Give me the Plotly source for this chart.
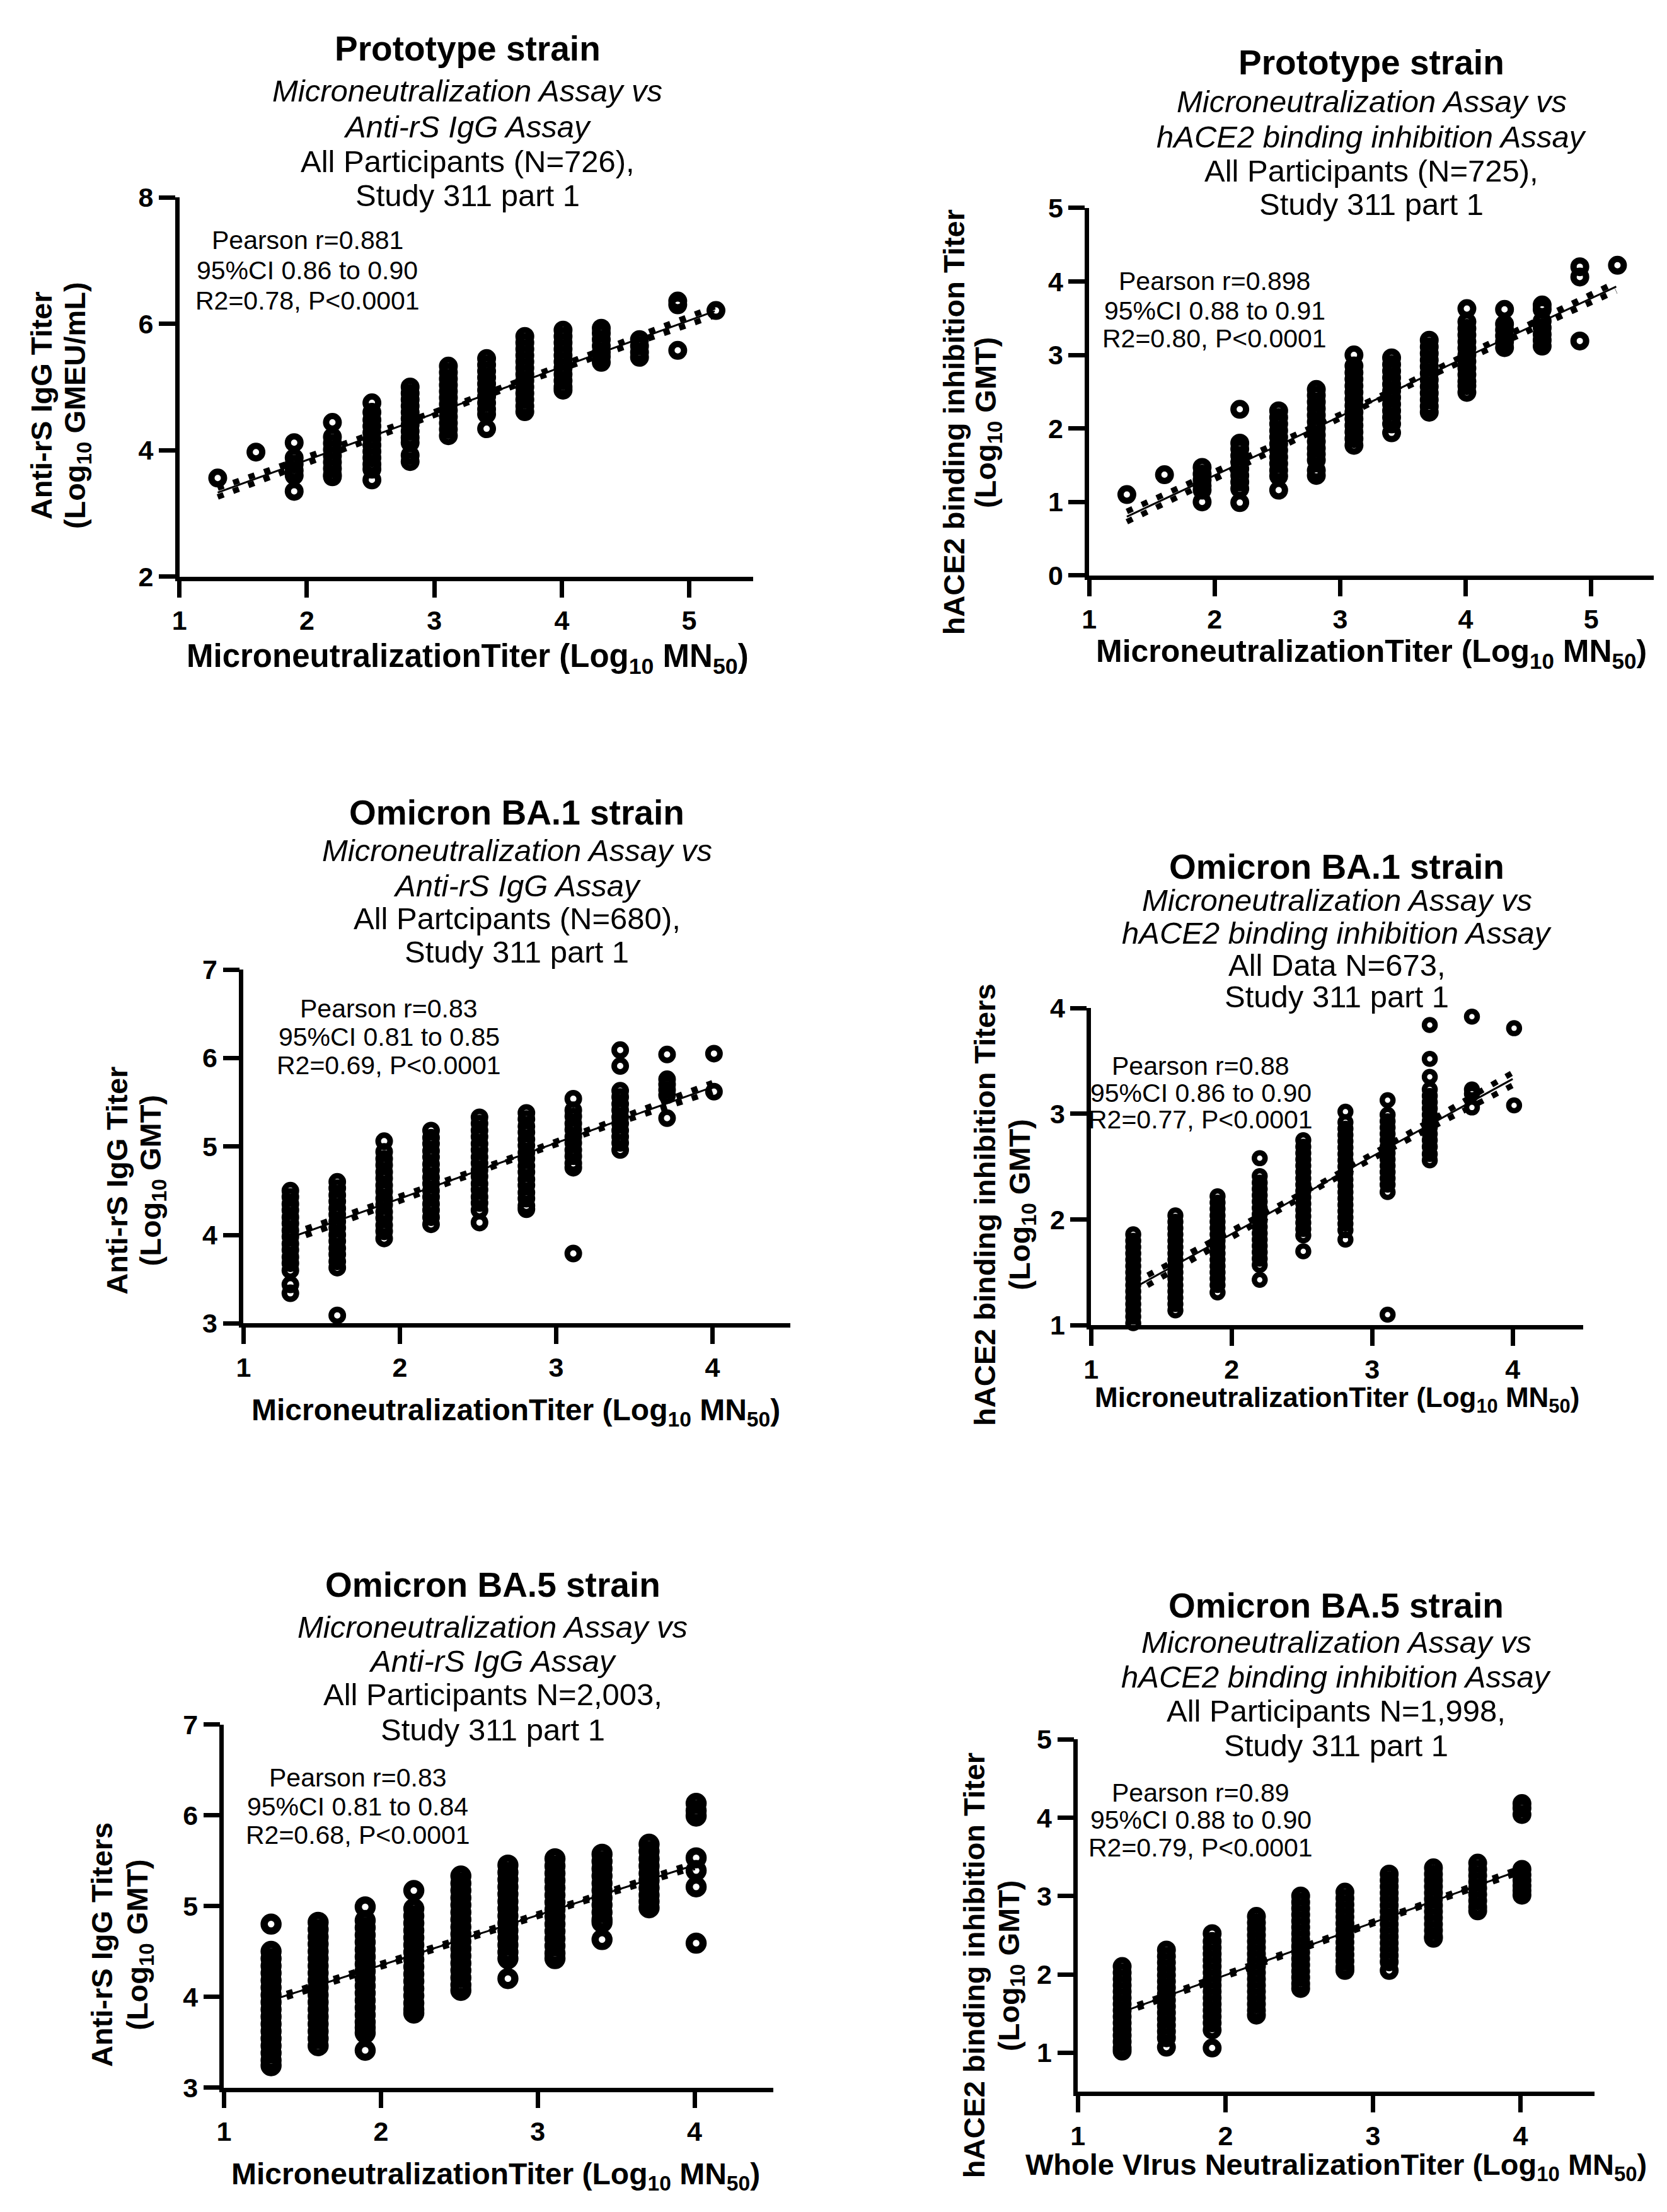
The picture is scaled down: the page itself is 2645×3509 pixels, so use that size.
import numpy as np
import plotly.graph_objects as go

W, H = 2645, 3509
FONT = "Liberation Sans, Arial, sans-serif"

# ======================= DATA =======================
# Panel 1: Prototype strain, MN vs anti-rS IgG
p1_cols = [1.30, 1.60, 1.90, 2.20, 2.51, 2.81, 3.11, 3.41, 3.71, 4.01, 4.31, 4.61, 4.91, 5.21]
p1_vals = [
    [3.56],
    [3.97],
    [4.12, 3.88, 3.78, 3.68, 3.60, 3.35],
    [4.44, 4.21, 4.11, 4.01, 3.91, 3.81, 3.71, 3.61, 3.58],
    [4.75, 4.60, 4.48, 4.38, 4.28, 4.18, 4.08, 3.98, 3.88, 3.78, 3.70, 3.53],
    [5.00, 4.90, 4.80, 4.70, 4.60, 4.50, 4.40, 4.30, 4.20, 4.12, 3.92, 3.82],
    [5.33, 5.23, 5.13, 5.03, 4.93, 4.83, 4.73, 4.63, 4.53, 4.43, 4.33, 4.23],
    [5.45, 5.35, 5.25, 5.15, 5.05, 4.95, 4.85, 4.75, 4.65, 4.57, 4.34],
    [5.80, 5.70, 5.60, 5.50, 5.40, 5.30, 5.20, 5.10, 5.00, 4.90, 4.80, 4.70, 4.61],
    [5.90, 5.80, 5.70, 5.60, 5.50, 5.40, 5.30, 5.20, 5.10, 5.00, 4.95],
    [5.93, 5.85, 5.75, 5.65, 5.55, 5.48, 5.39],
    [5.75, 5.65, 5.55, 5.47],
    [6.36, 6.30, 5.58],
    [6.21],
]
p1_fit_x = [1.30, 5.20]
p1_fit_y = [3.33, 6.20]
p1_ci_x = [1.30, 2.20, 3.25, 4.30, 5.20]
p1_ci_hw = [0.07, 0.04, 0.02, 0.04, 0.07]
p1_xticks = [1, 2, 3, 4, 5]
p1_yticks = [2, 4, 6, 8]

# Panel 2: Prototype strain, MN vs hACE2 binding inhibition
p2_cols = [1.30, 1.60, 1.90, 2.20, 2.51, 2.81, 3.11, 3.41, 3.71, 4.01, 4.31, 4.61, 4.91, 5.21]
p2_vals = [
    [1.10],
    [1.37],
    [1.47, 1.38, 1.30, 1.22, 1.16, 1.00],
    [2.26, 1.80, 1.72, 1.63, 1.54, 1.45, 1.36, 1.27, 1.18, 0.99],
    [2.24, 2.15, 2.06, 1.97, 1.88, 1.79, 1.70, 1.61, 1.52, 1.43, 1.35, 1.16],
    [2.53, 2.45, 2.36, 2.27, 2.18, 2.09, 2.00, 1.91, 1.82, 1.73, 1.65, 1.57, 1.43, 1.36],
    [3.00, 2.85, 2.76, 2.67, 2.58, 2.49, 2.40, 2.31, 2.22, 2.13, 2.04, 1.95, 1.86, 1.77],
    [2.96, 2.87, 2.78, 2.69, 2.60, 2.51, 2.42, 2.33, 2.24, 2.15, 2.06, 1.94],
    [3.20, 3.11, 3.02, 2.93, 2.84, 2.75, 2.66, 2.57, 2.48, 2.39, 2.30, 2.22],
    [3.63, 3.45, 3.36, 3.27, 3.18, 3.09, 3.00, 2.91, 2.82, 2.73, 2.64, 2.58, 2.49],
    [3.62, 3.42, 3.34, 3.26, 3.18, 3.10],
    [3.68, 3.62, 3.46, 3.37, 3.28, 3.20, 3.12],
    [4.20, 4.06, 3.19],
    [4.22],
]
p2_fit_x = [1.30, 5.20]
p2_fit_y = [0.80, 3.93]
p2_ci_x = [1.30, 2.20, 3.25, 4.30, 5.20]
p2_ci_hw = [0.07, 0.04, 0.02, 0.04, 0.06]
p2_xticks = [1, 2, 3, 4, 5]
p2_yticks = [0, 1, 2, 3, 4, 5]

# Panel 3: Omicron BA.1, MN vs anti-rS IgG
p3_cols = [1.30, 1.60, 1.90, 2.20, 2.51, 2.81, 3.11, 3.41, 3.71, 4.01]
p3_vals = [
    [4.50, 4.43, 4.35, 4.28, 4.20, 4.13, 4.05, 3.98, 3.90, 3.83, 3.75, 3.68, 3.60, 3.44, 3.34],
    [4.60, 4.53, 4.45, 4.38, 4.30, 4.23, 4.15, 4.08, 4.00, 3.93, 3.85, 3.78, 3.70, 3.63, 3.09],
    [5.06, 4.94, 4.86, 4.79, 4.71, 4.64, 4.56, 4.49, 4.41, 4.34, 4.26, 4.19, 4.11, 4.04, 3.96],
    [5.18, 5.10, 5.03, 4.95, 4.88, 4.80, 4.73, 4.65, 4.58, 4.50, 4.43, 4.35, 4.28, 4.20, 4.12],
    [5.33, 5.26, 5.18, 5.11, 5.03, 4.96, 4.88, 4.81, 4.73, 4.66, 4.58, 4.51, 4.43, 4.36, 4.28, 4.14],
    [5.38, 5.31, 5.23, 5.16, 5.08, 5.01, 4.93, 4.86, 4.78, 4.71, 4.63, 4.56, 4.48, 4.41, 4.33, 4.29],
    [5.54, 5.41, 5.34, 5.26, 5.19, 5.11, 5.04, 4.96, 4.89, 4.81, 4.76, 3.79],
    [6.09, 5.91, 5.63, 5.56, 5.48, 5.41, 5.33, 5.26, 5.18, 5.11, 5.04, 4.96],
    [6.04, 5.76, 5.70, 5.64, 5.58, 5.32],
    [6.05, 5.62],
]
p3_fit_x = [1.30, 4.00]
p3_fit_y = [3.97, 5.67]
p3_ci_x = [1.30, 2.00, 2.65, 3.30, 4.00]
p3_ci_hw = [0.04, 0.02, 0.015, 0.02, 0.05]
p3_xticks = [1, 2, 3, 4]
p3_yticks = [3, 4, 5, 6, 7]

# Panel 4: Omicron BA.1, MN vs hACE2 binding inhibition
p4_cols = [1.30, 1.60, 1.90, 2.20, 2.51, 2.81, 3.11, 3.41, 3.71, 4.01]
p4_vals = [
    [1.86, 1.80, 1.74, 1.68, 1.62, 1.56, 1.50, 1.44, 1.38, 1.32, 1.26, 1.20, 1.14, 1.08, 1.02],
    [2.04, 1.98, 1.92, 1.86, 1.80, 1.74, 1.68, 1.62, 1.56, 1.50, 1.44, 1.38, 1.32, 1.26, 1.20, 1.14],
    [2.22, 2.16, 2.10, 2.04, 1.98, 1.92, 1.86, 1.80, 1.74, 1.68, 1.62, 1.56, 1.50, 1.44, 1.38, 1.31],
    [2.58, 2.41, 2.35, 2.29, 2.23, 2.17, 2.11, 2.05, 1.99, 1.93, 1.87, 1.81, 1.75, 1.69, 1.63, 1.57, 1.43],
    [2.75, 2.69, 2.63, 2.57, 2.51, 2.45, 2.39, 2.33, 2.27, 2.21, 2.15, 2.09, 2.03, 1.97, 1.91, 1.85, 1.70],
    [3.02, 2.92, 2.86, 2.80, 2.74, 2.68, 2.62, 2.56, 2.50, 2.44, 2.38, 2.32, 2.26, 2.20, 2.14, 2.08,
     2.02, 1.96, 1.90, 1.81],
    [3.13, 2.99, 2.93, 2.87, 2.81, 2.75, 2.69, 2.63, 2.57, 2.51, 2.45, 2.39, 2.33, 2.26, 1.10],
    [3.84, 3.52, 3.35, 3.23, 3.17, 3.11, 3.05, 2.99, 2.93, 2.87, 2.81, 2.75, 2.69, 2.62, 2.56],
    [3.92, 3.23, 3.19, 3.06],
    [3.81, 3.08],
]
p4_fit_x = [1.30, 4.00]
p4_fit_y = [1.35, 3.33]
p4_ci_x = [1.30, 2.00, 2.65, 3.30, 4.00]
p4_ci_hw = [0.05, 0.03, 0.015, 0.03, 0.06]
p4_xticks = [1, 2, 3, 4]
p4_yticks = [1, 2, 3, 4]

# Panel 5: Omicron BA.5, MN vs anti-rS IgG
p5_cols = [1.30, 1.60, 1.90, 2.21, 2.51, 2.81, 3.11, 3.41, 3.71, 4.01]
p5_vals = [
    [4.80, 4.50, 4.42, 4.34, 4.26, 4.18, 4.10, 4.02, 3.94, 3.86, 3.78, 3.70, 3.62, 3.54, 3.46, 3.38,
     3.30, 3.24],
    [4.82, 4.74, 4.66, 4.58, 4.50, 4.42, 4.34, 4.26, 4.18, 4.10, 4.02, 3.94, 3.86, 3.78, 3.70, 3.62,
     3.54, 3.46],
    [4.99, 4.84, 4.76, 4.68, 4.60, 4.52, 4.44, 4.36, 4.28, 4.20, 4.12, 4.04, 3.96, 3.88, 3.80, 3.72,
     3.66, 3.60, 3.41],
    [5.17, 4.97, 4.89, 4.81, 4.73, 4.65, 4.57, 4.49, 4.41, 4.33, 4.25, 4.17, 4.09, 4.01, 3.93, 3.86, 3.82],
    [5.33, 5.25, 5.17, 5.09, 5.01, 4.93, 4.85, 4.77, 4.69, 4.61, 4.53, 4.45, 4.37, 4.29, 4.21, 4.13, 4.07],
    [5.45, 5.37, 5.29, 5.21, 5.13, 5.05, 4.97, 4.89, 4.81, 4.73, 4.65, 4.57, 4.49, 4.42, 4.20],
    [5.52, 5.44, 5.36, 5.28, 5.20, 5.12, 5.04, 4.96, 4.88, 4.80, 4.72, 4.64, 4.56, 4.48, 4.42],
    [5.57, 5.49, 5.41, 5.33, 5.25, 5.17, 5.09, 5.01, 4.93, 4.85, 4.82, 4.63],
    [5.68, 5.60, 5.52, 5.44, 5.36, 5.28, 5.20, 5.12, 5.05, 4.98],
    [6.13, 6.05, 5.99, 5.53, 5.39, 5.21, 4.59],
]
p5_fit_x = [1.30, 4.00]
p5_fit_y = [3.96, 5.45]
p5_ci_x = [1.30, 2.00, 2.65, 3.30, 4.00]
p5_ci_hw = [0.02, 0.012, 0.01, 0.012, 0.025]
p5_xticks = [1, 2, 3, 4]
p5_yticks = [3, 4, 5, 6, 7]

# Panel 6: Omicron BA.5, whole virus neutralization vs hACE2 binding inhibition
p6_cols = [1.30, 1.60, 1.91, 2.21, 2.51, 2.81, 3.11, 3.41, 3.71, 4.01]
p6_vals = [
    [2.10, 2.02, 1.94, 1.86, 1.78, 1.70, 1.62, 1.54, 1.46, 1.38, 1.30, 1.22, 1.14, 1.06, 1.02],
    [2.31, 2.23, 2.15, 2.07, 1.99, 1.91, 1.83, 1.75, 1.67, 1.59, 1.51, 1.43, 1.35, 1.27, 1.19, 1.07],
    [2.52, 2.42, 2.34, 2.26, 2.18, 2.10, 2.02, 1.94, 1.86, 1.78, 1.70, 1.62, 1.54, 1.46, 1.38, 1.29, 1.06],
    [2.74, 2.66, 2.58, 2.50, 2.42, 2.34, 2.26, 2.18, 2.10, 2.02, 1.94, 1.86, 1.78, 1.70, 1.62, 1.54, 1.48],
    [3.00, 2.92, 2.84, 2.76, 2.68, 2.60, 2.52, 2.44, 2.36, 2.28, 2.20, 2.12, 2.04, 1.96, 1.88, 1.82],
    [3.05, 2.97, 2.89, 2.81, 2.73, 2.65, 2.57, 2.49, 2.41, 2.33, 2.25, 2.17, 2.09, 2.05],
    [3.28, 3.20, 3.12, 3.04, 2.96, 2.88, 2.80, 2.72, 2.64, 2.56, 2.48, 2.40, 2.32, 2.24, 2.16, 2.05],
    [3.36, 3.28, 3.20, 3.12, 3.04, 2.96, 2.88, 2.80, 2.72, 2.64, 2.56, 2.48, 2.46],
    [3.42, 3.34, 3.26, 3.18, 3.10, 3.02, 2.94, 2.86, 2.81],
    [4.18, 4.12, 4.04, 3.34, 3.27, 3.20, 3.13, 3.07, 3.01],
]
p6_fit_x = [1.30, 4.00]
p6_fit_y = [1.52, 3.33]
p6_ci_x = [1.30, 2.00, 2.65, 3.30, 4.00]
p6_ci_hw = [0.02, 0.012, 0.01, 0.012, 0.025]
p6_xticks = [1, 2, 3, 4]
p6_yticks = [1, 2, 3, 4, 5]

# ---------------- text ----------------
X_TITLE_MN = "MicroneutralizationTiter (Log<sub>10</sub> MN<sub>50</sub>)"
X_TITLE_WV = "Whole VIrus NeutralizationTiter (Log<sub>10</sub> MN<sub>50</sub>)"

texts = [
    dict(title="Prototype strain",
         sub=["Microneutralization Assay vs", "Anti-rS IgG Assay"],
         sub2=["All Participants (N=726),", "Study 311 part 1"],
         stats=["Pearson r=0.881", "95%CI 0.86 to 0.90", "R2=0.78, P<0.0001"],
         ytitle=["Anti-rS IgG Titer", "(Log<sub>10</sub> GMEU/mL)"], xtitle=X_TITLE_MN),
    dict(title="Prototype strain",
         sub=["Microneutralization Assay vs", "hACE2 binding inhibition Assay"],
         sub2=["All Participants (N=725),", "Study 311 part 1"],
         stats=["Pearson r=0.898", "95%CI 0.88 to 0.91", "R2=0.80, P<0.0001"],
         ytitle=["hACE2 binding inhibition Titer", "(Log<sub>10</sub> GMT)"], xtitle=X_TITLE_MN),
    dict(title="Omicron BA.1 strain",
         sub=["Microneutralization Assay vs", "Anti-rS IgG Assay"],
         sub2=["All Partcipants (N=680),", "Study 311 part 1"],
         stats=["Pearson r=0.83", "95%CI 0.81 to 0.85", "R2=0.69, P<0.0001"],
         ytitle=["Anti-rS IgG Titer", "(Log<sub>10</sub> GMT)"], xtitle=X_TITLE_MN),
    dict(title="Omicron BA.1 strain",
         sub=["Microneutralization Assay vs", "hACE2 binding inhibition Assay"],
         sub2=["All Data N=673,", "Study 311 part 1"],
         stats=["Pearson r=0.88", "95%CI 0.86 to 0.90", "R2=0.77, P<0.0001"],
         ytitle=["hACE2 binding inhibition Titers", "(Log<sub>10</sub> GMT)"], xtitle=X_TITLE_MN),
    dict(title="Omicron BA.5 strain",
         sub=["Microneutralization Assay vs", "Anti-rS IgG Assay"],
         sub2=["All Participants N=2,003,", "Study 311 part 1"],
         stats=["Pearson r=0.83", "95%CI 0.81 to 0.84", "R2=0.68, P<0.0001"],
         ytitle=["Anti-rS IgG Titers", "(Log<sub>10</sub> GMT)"], xtitle=X_TITLE_MN),
    dict(title="Omicron BA.5 strain",
         sub=["Microneutralization Assay vs", "hACE2 binding inhibition Assay"],
         sub2=["All Participants N=1,998,", "Study 311 part 1"],
         stats=["Pearson r=0.89", "95%CI 0.88 to 0.90", "R2=0.79, P<0.0001"],
         ytitle=["hACE2 binding inhibition Titer", "(Log<sub>10</sub> GMT)"], xtitle=X_TITLE_WV),
]

# ======================= LAYOUT (pixel geometry) =======================
panels = [
    dict(cols=p1_cols, vals=p1_vals, fx=p1_fit_x, fy=p1_fit_y, cx=p1_ci_x, hw=p1_ci_hw,
         xt=p1_xticks, yt=p1_yticks, xr=[1, 5.5], yr=[2, 8],
         dx=(266, 1180), dy=(285, 895), ms=20, mlw=10, axt=51,
         tpos=(725, 46), spos=[114, 171, 227, 282], apos=(470, [354, 402, 451]),
         xtpos=(725, 1027), ytpos=([46, 102], 620)),
    dict(cols=p2_cols, vals=p2_vals, fx=p2_fit_x, fy=p2_fit_y, cx=p2_ci_x, hw=p2_ci_hw,
         xt=p2_xticks, yt=p2_yticks, xr=[1, 5.5], yr=[0, 5],
         dx=(1716, 2616), dy=(302, 893), ms=20, mlw=10, axt=50,
         tpos=(2166, 68), spos=[131, 188, 242, 296], apos=(1916, [420, 467, 512]),
         xtpos=(2166, 1018), ytpos=([1500, 1554], 647)),
    dict(cols=p3_cols, vals=p3_vals, fx=p3_fit_x, fy=p3_fit_y, cx=p3_ci_x, hw=p3_ci_hw,
         xt=p3_xticks, yt=p3_yticks, xr=[1, 4.5], yr=[3, 7],
         dx=(368, 1240), dy=(1527, 2096), ms=19, mlw=9, axt=48,
         tpos=(804, 1274), spos=[1335, 1392, 1445, 1498], apos=(600, [1590, 1635, 1681]),
         xtpos=(802, 2239), ytpos=([166, 223], 1866)),
    dict(cols=p4_cols, vals=p4_vals, fx=p4_fit_x, fy=p4_fit_y, cx=p4_ci_x, hw=p4_ci_hw,
         xt=p4_xticks, yt=p4_yticks, xr=[1, 4.5], yr=[1, 4],
         dx=(1719, 2503), dy=(1589, 2099), ms=17, mlw=8.5, axt=44,
         tpos=(2111, 1362), spos=[1415, 1468, 1520, 1570], apos=(1894, [1682, 1726, 1768]),
         xtpos=(2111, 2218), ytpos=([1550, 1608], 1905)),
    dict(cols=p5_cols, vals=p5_vals, fx=p5_fit_x, fy=p5_fit_y, cx=p5_ci_x, hw=p5_ci_hw,
         xt=p5_xticks, yt=p5_yticks, xr=[1, 4.5], yr=[3, 7],
         dx=(337, 1212), dy=(2741, 3325), ms=22, mlw=11.5, axt=48,
         tpos=(765, 2516), spos=[2584, 2639, 2693, 2750], apos=(550, [2827, 2873, 2919]),
         xtpos=(770, 3467), ytpos=([142, 202], 3095)),
    dict(cols=p6_cols, vals=p6_vals, fx=p6_fit_x, fy=p6_fit_y, cx=p6_ci_x, hw=p6_ci_hw,
         xt=p6_xticks, yt=p6_yticks, xr=[1, 4.5], yr=[0.5, 5],
         dx=(1698, 2521), dy=(2765, 3332), ms=20, mlw=10, axt=47,
         tpos=(2110, 2550), spos=[2609, 2664, 2719, 2775], apos=(1894, [2851, 2895, 2939]),
         xtpos=(2110, 3452), ytpos=([1532, 1591], 3129)),
]

TITLE_SIZE = 55
SUB_SIZE = 49
STAT_SIZE = 41
TICK_SIZE = 43
AXW = 6.5


def px(x):
    return x / W


def py(y):
    return 1 - y / H


fig = go.Figure()
annotations = []


def ann(text, x, y, size, angle=0):
    annotations.append(dict(
        text=text, x=px(x), y=py(y), xref="paper", yref="paper",
        xanchor="center", yanchor="middle", showarrow=False, textangle=angle,
        font=dict(family=FONT, size=size, color="black")))


for i, (p, t) in enumerate(zip(panels, texts), start=1):
    sfx = "" if i == 1 else str(i)
    xa, ya = "x" + sfx, "y" + sfx

    xs = [c for c, col in zip(p["cols"], p["vals"]) for _ in col]
    ys = [v for col in p["vals"] for v in col]
    fig.add_trace(go.Scatter(
        x=xs, y=ys, mode="markers", xaxis=xa, yaxis=ya, showlegend=False,
        cliponaxis=False, hoverinfo="skip",
        marker=dict(symbol="circle-open", size=p["ms"], color="black",
                    line=dict(width=p["mlw"], color="black"))))

    # regression line
    fig.add_trace(go.Scatter(
        x=p["fx"], y=p["fy"], mode="lines", xaxis=xa, yaxis=ya, showlegend=False,
        cliponaxis=False, hoverinfo="skip", line=dict(color="black", width=3)))
    # 95% confidence bands (dotted)
    mid = np.interp(p["cx"], p["fx"], p["fy"])
    hw = np.array(p["hw"])
    for band in (mid + hw, mid - hw):
        fig.add_trace(go.Scatter(
            x=p["cx"], y=band, mode="lines", xaxis=xa, yaxis=ya, showlegend=False,
            cliponaxis=False, hoverinfo="skip",
            line=dict(color="black", width=9, dash="10px,16px")))

    axis_common = dict(
        showline=True, linewidth=AXW, linecolor="black", showgrid=False, zeroline=False,
        ticks="outside", ticklen=26, tickwidth=AXW, tickcolor="black",
        tickfont=dict(family=FONT, size=TICK_SIZE, color="black", weight="bold"),
        fixedrange=True)
    fig.layout["xaxis" + sfx] = dict(
        domain=[px(p["dx"][0]), px(p["dx"][1])], range=p["xr"], anchor=ya,
        tickvals=p["xt"], ticktext=[str(v) for v in p["xt"]], **axis_common)
    fig.layout["yaxis" + sfx] = dict(
        domain=[py(p["dy"][1]), py(p["dy"][0])], range=p["yr"], anchor=xa,
        tickvals=p["yt"], ticktext=[str(v) for v in p["yt"]], **axis_common)

    tx, ty = p["tpos"]
    ann("<b>" + t["title"] + "</b>", tx, ty, TITLE_SIZE)
    for line, yy in zip(t["sub"], p["spos"][:2]):
        ann("<i>" + line + "</i>", tx, yy, SUB_SIZE)
    for line, yy in zip(t["sub2"], p["spos"][2:]):
        ann(line, tx, yy, SUB_SIZE)
    axp, ays = p["apos"]
    for line, yy in zip(t["stats"], ays):
        ann(line, axp, yy, STAT_SIZE)
    ann("<b>" + t["xtitle"] + "</b>", p["xtpos"][0], p["xtpos"][1], p["axt"])
    (yx1, yx2), ycy = p["ytpos"]
    ann("<b>" + t["ytitle"][0] + "</b>", yx1, ycy, 47, -90)
    ann("<b>" + t["ytitle"][1] + "</b>", yx2, ycy, 47, -90)

fig.update_layout(
    width=W, height=H, margin=dict(l=0, r=0, t=0, b=0),
    paper_bgcolor="white", plot_bgcolor="white",
    showlegend=False, annotations=annotations,
    font=dict(family=FONT, color="black"))

fig.write_html("out.html")
